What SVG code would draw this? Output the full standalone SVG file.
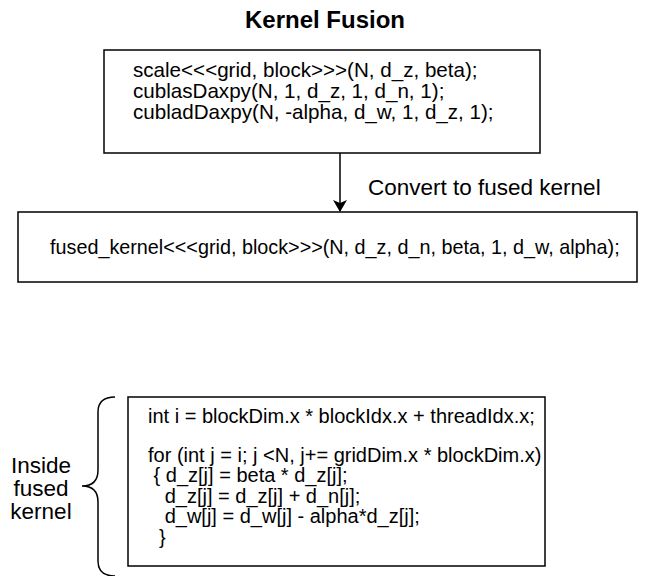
<svg xmlns="http://www.w3.org/2000/svg" width="650" height="576" viewBox="0 0 650 576">
<defs>
<style>
.box{fill:#fff;stroke:#000;stroke-width:1.5}
.t{font-family:"Liberation Sans",Arial,Helvetica,sans-serif;font-size:20px;fill:#000}
.lb{font-family:"Liberation Sans",Arial,Helvetica,sans-serif;font-size:22.5px;fill:#000}
.title{font-family:"Liberation Sans",Arial,Helvetica,sans-serif;font-size:24px;font-weight:bold;fill:#000}
.ln{fill:none;stroke:#000;stroke-width:1.5}
</style>
<marker id="ah" viewBox="0 0 12 14" refX="11" refY="7" markerWidth="12" markerHeight="14" markerUnits="userSpaceOnUse" orient="auto">
<path d="M0,0 L12,7 L0,14 L3,7 Z" fill="#000"/>
</marker>
</defs>
<rect width="650" height="576" fill="#fff"/>
<text class="title" x="325" y="28" text-anchor="middle">Kernel Fusion</text>
<g id="connectors">
<line class="ln" x1="340" y1="153" x2="340" y2="211" marker-end="url(#ah)"/>
<text class="lb" x="368" y="195">Convert to fused kernel</text>
</g>
<g id="orig">
<rect class="box" x="104" y="50" width="436" height="103"/>
<text class="t" x="133" y="77" style="font-size:20.6px">scale&lt;&lt;&lt;grid, block&gt;&gt;&gt;(N, d_z, beta);</text>
<text class="t" x="133" y="98" style="font-size:20.6px">cublasDaxpy(N, 1, d_z, 1, d_n, 1);</text>
<text class="t" x="133" y="119" style="font-size:20.6px">cubladDaxpy(N, -alpha, d_w, 1, d_z, 1);</text>
</g>
<g id="fused">
<rect class="box" x="18" y="212" width="619" height="70"/>
<text class="t" x="50" y="254" style="font-size:19.8px">fused_kernel&lt;&lt;&lt;grid, block&gt;&gt;&gt;(N, d_z, d_n, beta, 1, d_w, alpha);</text>
</g>
<g id="inside">
<rect class="box" x="128" y="397" width="417" height="169"/>
<text class="t" x="148" y="423">int i = blockDim.x * blockIdx.x + threadIdx.x;</text>
<text class="t" x="148" y="462">for (int j = i; j &lt;N, j+= gridDim.x * blockDim.x)</text>
<text class="t" x="148" y="482" xml:space="preserve"> { d_z[j] = beta * d_z[j];</text>
<text class="t" x="148" y="503" xml:space="preserve">   d_z[j] = d_z[j] + d_n[j];</text>
<text class="t" x="148" y="523" xml:space="preserve">   d_w[j] = d_w[j] - alpha*d_z[j];</text>
<text class="t" x="148" y="544" xml:space="preserve">  }</text>
</g>
<g id="brace">
<path class="ln" d="M115,397 Q98,397 98,412 L98,470 Q98,486 82,486 Q98,486 98,502 L98,561 Q98,576 115,576"/>
</g>
<g id="label">
<text class="lb" x="41" y="473" text-anchor="middle">Inside</text>
<text class="lb" x="41" y="496" text-anchor="middle">fused</text>
<text class="lb" x="41" y="519" text-anchor="middle">kernel</text>
</g>
</svg>
